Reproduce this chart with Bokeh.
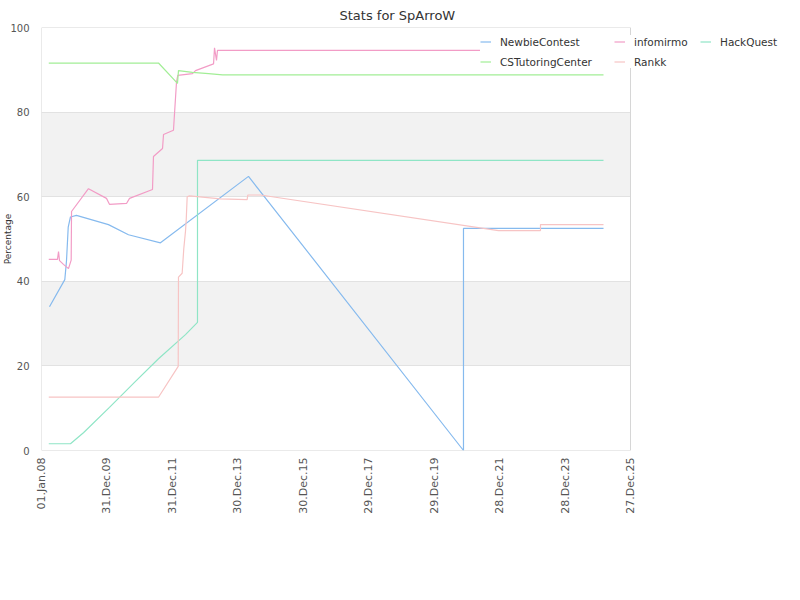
import math
import pandas as pd
from bokeh.plotting import figure
from bokeh.models import (Range1d, FixedTicker, DatetimeTickFormatter, Legend,
                          LegendItem, ColumnDataSource, BoxAnnotation)
from bokeh.embed import file_html
from bokeh.resources import INLINE

TITLE = "Stats for SpArroW"
Y_LABEL = "Percentage"
X_START = "2008-01-01"
X_END = "2025-12-27"
X_TICKS = ["2008-01-01", "2009-12-31", "2011-12-31", "2013-12-30", "2015-12-30",
           "2017-12-29", "2019-12-29", "2021-12-28", "2023-12-28", "2025-12-27"]
Y_TICKS = [0, 20, 40, 60, 80, 100]
Y_MAX = 100

newbie_dates = ["2008-03-30", "2008-09-17", "2008-10-06", "2008-10-25", "2008-11-19",
                "2009-01-25", "2010-01-17", "2010-08-28", "2011-08-20", "2014-04-28",
                "2020-11-20", "2020-11-20", "2025-03-01"]
newbie_values = [34.0, 40.4, 44.9, 52.8, 55.2, 55.6, 53.4, 51.0, 49.1, 64.8, 0.0, 52.5, 52.5]

infomirmo_dates = ["2008-03-22", "2008-06-27", "2008-07-09", "2008-07-20", "2008-09-02",
                   "2008-10-28", "2008-11-27", "2008-12-01", "2009-06-08", "2009-12-26",
                   "2010-01-28", "2010-08-06", "2010-09-09", "2011-05-23", "2011-06-03",
                   "2011-09-12", "2011-09-23", "2011-12-10", "2012-01-12", "2012-02-15",
                   "2012-02-29", "2012-08-11", "2012-09-14", "2013-04-03", "2013-04-14",
                   "2013-05-06", "2013-05-17", "2025-03-01"]
infomirmo_values = [45.2, 45.2, 47.0, 44.9, 44.0, 43.0, 45.0, 56.5, 61.9, 59.6,
                    58.2, 58.4, 59.6, 61.7, 69.5, 71.4, 74.7, 75.4, 75.7, 87.1,
                    88.7, 89.1, 89.8, 91.4, 95.2, 92.2, 94.6, 94.6]

hackquest_dates = ["2008-03-22", "2008-11-19", "2009-04-13", "2010-01-28", "2010-11-03",
                   "2011-07-29", "2012-05-25", "2012-10-06", "2012-10-06", "2025-03-01"]
hackquest_values = [1.6, 1.6, 4.2, 10.2, 16.1, 21.7, 27.4, 30.3, 68.6, 68.6]

cstutoring_dates = ["2008-03-22", "2011-07-29", "2012-02-26", "2012-03-08", "2012-08-11",
                    "2013-02-06", "2013-07-12", "2025-03-01"]
cstutoring_values = [91.6, 91.6, 86.8, 89.8, 89.4, 89.1, 88.8, 88.8]

rankk_dates = ["2008-03-22", "2011-07-29", "2012-03-05", "2012-03-08", "2012-04-18",
               "2012-05-06", "2012-05-25", "2012-06-02", "2012-06-13", "2012-07-09",
               "2013-06-20", "2014-04-13", "2014-04-20", "2014-09-09", "2021-12-15",
               "2023-03-29", "2023-03-29", "2025-03-01"]
rankk_values = [12.6, 12.6, 19.9, 41.0, 41.9, 47.7, 51.8, 54.4, 60.0, 60.2,
                59.5, 59.3, 60.4, 60.4, 52.0, 52.0, 53.4, 53.4]

series = [
    ("NewbieContest", newbie_dates, newbie_values, "#86baee"),
    ("infomirmo", infomirmo_dates, infomirmo_values, "#f29cc6"),
    ("HackQuest", hackquest_dates, hackquest_values, "#8fe5c6"),
    ("CSTutoringCenter", cstutoring_dates, cstutoring_values, "#a2ee96"),
    ("Rankk", rankk_dates, rankk_values, "#f7c4c4"),
]

FONT = "DejaVu Sans"

# layout geometry (pixels): plot area 41..630 x 27..450 inside an 800x600 canvas;
# the frame is widened to the right canvas edge so the legend is not clipped
W, H = 800, 600
PLOT_L, PLOT_R, PLOT_T, PLOT_B = 41, 630, 27, 450
frame_w = W - PLOT_L

x0 = pd.Timestamp(X_START)
x1 = pd.Timestamp(X_END)
x_end_ext = x0 + (x1 - x0) * (frame_w / (PLOT_R - PLOT_L))

p = figure(width=W, height=H, output_backend="svg", toolbar_location=None,
           x_axis_type="datetime",
           x_range=Range1d(x0, x_end_ext),
           y_range=Range1d(0, Y_MAX),
           min_border_left=PLOT_L, min_border_right=0, min_border_top=PLOT_T,
           min_border_bottom=H - PLOT_B)
p.title.text = TITLE
p.title.align = "left"
p.title.offset = 298
p.title.text_font = FONT
p.title.text_font_size = "13px"
p.title.text_font_style = "normal"
p.title.text_color = "#333333"
p.title.standoff = 9
p.background_fill_color = "white"
p.border_fill_color = "white"
p.outline_line_color = None

p.xgrid.grid_line_color = None
p.ygrid.grid_line_color = "#e2e2e2"
p.ygrid.band_fill_color = "#f2f2f2"
p.ygrid.band_fill_alpha = 1.0

tick_ms = [pd.Timestamp(t).value // 10**6 for t in X_TICKS]
xa = p.xaxis[0]
xa.ticker = FixedTicker(ticks=tick_ms)
fmt = "%d.%b.%y"
xa.formatter = DatetimeTickFormatter(microseconds=fmt, milliseconds=fmt, seconds=fmt,
                                     minsec=fmt, minutes=fmt, hourmin=fmt, hours=fmt,
                                     days=fmt, months=fmt, years=fmt)
xa.major_label_orientation = math.pi / 2
xa.major_label_text_font = FONT
xa.major_label_text_font_size = "11px"
xa.major_label_text_color = "#555555"
xa.major_label_standoff = 7
xa.axis_line_color = None
xa.major_tick_line_color = None
xa.minor_tick_line_color = None
xa.major_tick_out = 0
xa.major_tick_in = 0
xa.minor_tick_out = 0

ya = p.yaxis[0]
ya.ticker = FixedTicker(ticks=Y_TICKS)
ya.major_label_text_font = FONT
ya.major_label_text_font_size = "10px"
ya.major_label_text_color = "#555555"
ya.major_label_standoff = 12
ya.axis_line_color = None
ya.major_tick_line_color = None
ya.minor_tick_line_color = None
ya.major_tick_out = 0
ya.major_tick_in = 0
ya.minor_tick_out = 0
ya.axis_label = Y_LABEL
ya.axis_label_text_font = FONT
ya.axis_label_text_font_size = "9px"
ya.axis_label_text_font_style = "normal"
ya.axis_label_text_color = "#333333"
ya.axis_label_standoff = -6

# hide bands/grid right of the plot area, then draw the plot-area border
cover_r = BoxAnnotation(left=x1, fill_color="white", fill_alpha=1.0, line_alpha=0,
                        level="underlay")
p.add_layout(cover_r)
border = BoxAnnotation(left=x0, right=x1, bottom=0, top=Y_MAX, fill_alpha=0,
                       line_color="#d6d6d6", line_alpha=1.0, line_width=1,
                       level="underlay")
p.add_layout(border)

renderers = {}
for name, dates, values, color in series:
    src = ColumnDataSource(dict(x=pd.to_datetime(dates), y=values))
    r = p.line("x", "y", source=src, line_color=color, line_width=1.2)
    renderers[name] = r

def make_legend(names, x, y):
    lg = Legend(items=[LegendItem(label=n, renderers=[renderers[n]]) for n in names],
                location=(x, y), orientation="vertical")
    lg.background_fill_color = "white"
    lg.background_fill_alpha = 1.0
    lg.border_line_color = None
    lg.label_text_font = FONT
    lg.label_text_font_size = "10.5px"
    lg.label_text_color = "#333333"
    lg.glyph_width = 11
    lg.glyph_height = 13
    lg.label_height = 13
    lg.label_standoff = 9
    lg.spacing = 7
    lg.padding = 3
    lg.margin = 0
    return lg

# legend locations are relative to the frame's bottom-left corner
lgA = make_legend(["NewbieContest", "CSTutoringCenter"], 439, 382)
lgA.label_width = 112
lgB = make_legend(["infomirmo", "Rankk"], 573, 382)
lgB.label_width = 62
lgC = make_legend(["HackQuest"], 659, 402)
p.add_layout(lgA, "center")
p.add_layout(lgB, "center")
p.add_layout(lgC, "center")

open("out.html", "w").write(file_html(p, INLINE))
